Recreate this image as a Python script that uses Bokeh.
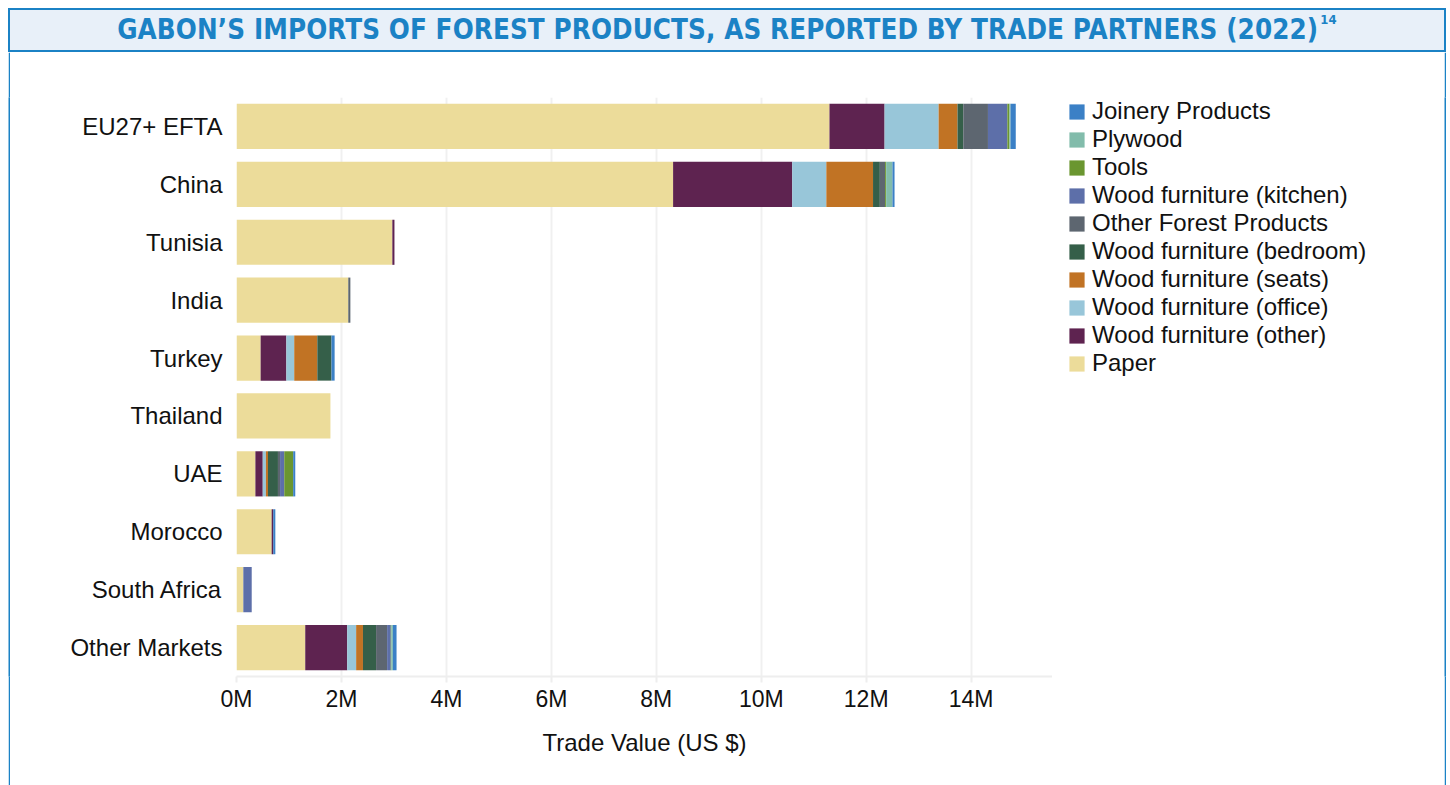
from bokeh.plotting import figure
from bokeh.models import (FactorRange, Range1d, FixedTicker, PrintfTickFormatter,
                          Legend, LegendItem, ColumnDataSource, Div)
from bokeh.layouts import column, row
from bokeh.embed import file_html
from bokeh.resources import INLINE

categories = ["EU27+ EFTA", "China", "Tunisia", "India", "Turkey", "Thailand",
              "UAE", "Morocco", "South Africa", "Other Markets"]

# values in millions of US $
paper          = [11.30, 8.32, 2.97, 2.13, 0.46, 1.79, 0.36, 0.67, 0.13, 1.31]
wf_other       = [1.05, 2.27, 0.04, 0.00, 0.49, 0.00, 0.14, 0.03, 0.00, 0.80]
wf_office      = [1.03, 0.65, 0.00, 0.00, 0.15, 0.00, 0.06, 0.00, 0.00, 0.17]
wf_seats       = [0.36, 0.89, 0.00, 0.00, 0.44, 0.00, 0.04, 0.00, 0.00, 0.13]
wf_bedroom     = [0.11, 0.13, 0.00, 0.00, 0.27, 0.00, 0.19, 0.00, 0.00, 0.25]
other_forest   = [0.47, 0.10, 0.00, 0.04, 0.00, 0.00, 0.04, 0.00, 0.00, 0.21]
wf_kitchen     = [0.37, 0.00, 0.00, 0.00, 0.00, 0.00, 0.08, 0.00, 0.16, 0.07]
tools          = [0.04, 0.02, 0.00, 0.00, 0.00, 0.00, 0.17, 0.00, 0.00, 0.01]
plywood        = [0.02, 0.12, 0.00, 0.00, 0.00, 0.00, 0.00, 0.00, 0.00, 0.03]
joinery        = [0.10, 0.04, 0.00, 0.00, 0.06, 0.00, 0.04, 0.04, 0.00, 0.07]

series_names = ["Paper", "Wood furniture (other)", "Wood furniture (office)",
                "Wood furniture (seats)", "Wood furniture (bedroom)",
                "Other Forest Products", "Wood furniture (kitchen)", "Tools",
                "Plywood", "Joinery Products"]
series_values = [paper, wf_other, wf_office, wf_seats, wf_bedroom, other_forest,
                 wf_kitchen, tools, plywood, joinery]
series_colors = ["#ecdc9a", "#5e2350", "#98c6d9", "#c17324", "#355f49",
                 "#5d6670", "#5d6fa9", "#6a9630", "#82bcab", "#3b80c6"]

x_ticks = [0, 2, 4, 6, 8, 10, 12, 14]

BLUE = "#1b82c5"
H = 733

data = {"cat": categories}
keys = []
for i, vals in enumerate(series_values):
    k = f"s{i}"
    keys.append(k)
    data[k] = vals
source = ColumnDataSource(data)

# ---- main chart ----
p = figure(y_range=FactorRange(*categories[::-1]), x_range=Range1d(0, 15.55),
           width=1042, height=H, output_backend="svg", toolbar_location=None,
           min_border_left=226, min_border_right=0, min_border_top=45,
           min_border_bottom=109)
p.outline_line_color = None
p.background_fill_color = "white"
p.border_fill_color = "white"

renderers = p.hbar_stack(keys, y="cat", height=0.78, color=series_colors,
                         line_color=None, source=source)

p.xaxis.ticker = FixedTicker(ticks=x_ticks)
p.xaxis.formatter = PrintfTickFormatter(format="%dM")
p.xaxis.axis_label = "Trade Value (US $)"
p.xaxis.axis_label_text_font = "Liberation Sans"
p.xaxis.axis_label_text_font_size = "24px"
p.xaxis.axis_label_text_font_style = "normal"
p.xaxis.axis_label_text_color = "#111111"
p.xaxis.axis_label_standoff = 14
p.xaxis.major_label_text_font = "Liberation Sans"
p.xaxis.major_label_text_font_size = "23px"
p.xaxis.major_label_text_color = "#111111"
p.xaxis.major_label_standoff = 3
p.xaxis.axis_line_color = "#eeeeee"
p.xaxis.axis_line_width = 2
p.xaxis.major_tick_line_color = "#eeeeee"
p.xaxis.major_tick_line_width = 2
p.xaxis.major_tick_out = 6
p.xaxis.major_tick_in = 0
p.xaxis.minor_tick_line_color = None

p.yaxis.axis_line_color = None
p.yaxis.major_tick_line_color = None
p.yaxis.minor_tick_line_color = None
p.yaxis.major_label_text_font = "Liberation Sans"
p.yaxis.major_label_text_font_size = "24px"
p.yaxis.major_label_text_color = "#111111"
p.yaxis.major_label_standoff = 8

p.xgrid.grid_line_color = "#f0f0f0"
p.xgrid.grid_line_width = 2
p.ygrid.grid_line_color = None

# ---- legend panel (separate canvas to the right; its zero-height bars stay hidden) ----
lg = figure(width=392, height=H, output_backend="svg", toolbar_location=None,
            x_range=Range1d(100, 101), y_range=p.y_range,
            min_border_left=0, min_border_right=0, min_border_top=45,
            min_border_bottom=109)
lg.axis.visible = False
lg.grid.visible = False
lg.outline_line_color = None
lg.border_fill_color = "white"
leg_renderers = lg.hbar_stack(keys, y="cat", height=0.0, color=series_colors,
                              line_color=None, source=source)
items = [LegendItem(label=name, renderers=[r])
         for name, r in zip(series_names[::-1], leg_renderers[::-1])]
legend = Legend(items=items, location=(15, 299), padding=0, margin=0,
                spacing=0, glyph_width=19, glyph_height=19, label_height=28,
                label_standoff=6, label_text_font="Liberation Sans",
                label_text_font_size="24px", label_text_color="#111111",
                border_line_color=None, background_fill_alpha=0)
lg.add_layout(legend, "center")


def side_line():
    f = figure(width=2, height=H, output_backend="svg", toolbar_location=None,
               min_border_left=0, min_border_right=0, min_border_top=0,
               min_border_bottom=0)
    f.axis.visible = False
    f.grid.visible = False
    f.outline_line_color = None
    f.background_fill_color = BLUE
    f.border_fill_color = BLUE
    return f


title = Div(text="GABON’S IMPORTS OF FOREST PRODUCTS, AS REPORTED BY TRADE PARTNERS (2022)"
                 "<sup style='font-size:13px; position:relative; top:-5px; margin-left:2px;'>14</sup>",
            width=1438, height=44, margin=0,
            styles={"background-color": "#e8f0f9", "border": f"2px solid {BLUE}",
                    "box-sizing": "border-box",
                    "color": BLUE, "font-family": "DejaVu Sans Condensed",
                    "font-weight": "bold", "font-size": "27.5px",
                    "letter-spacing": "0.1px",
                    "display": "flex", "align-items": "center",
                    "justify-content": "center"})

layout = column(title, row(side_line(), p, lg, side_line(), spacing=0),
                spacing=0, margin=(8, 0, 0, 8))

open("out.html", "w").write(file_html(layout, INLINE))
